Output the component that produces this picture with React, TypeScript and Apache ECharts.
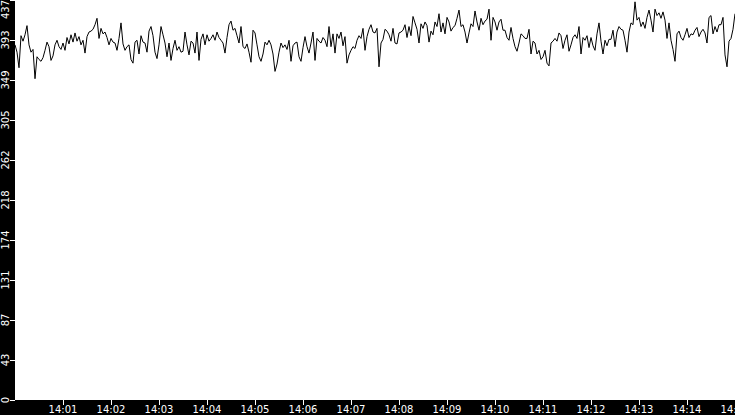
import React, { useEffect, useRef } from 'react';
import * as echarts from 'echarts';

// seconds after 14:00:00, one sample every 2.5 s
const SAMPLE_STEP = 2.5;
const START_HOUR = 14;
const MINUTE_TICKS = [1, 2, 3, 4, 5, 6, 7, 8, 9, 10, 11, 12, 13, 14, 15];
const Y_MAX = 437;
const Y_STEP = 43.7;

const seg1 = [
  388, 380, 363, 398, 392, 399, 409, 388, 380, 383, 351, 375, 372, 370, 374, 382, 391, 386, 371, 376,
  388, 393, 386, 383, 390, 382, 396, 389, 399, 391, 401, 392, 397, 388, 393, 379, 397, 402, 403, 405,
  410, 417, 395, 406, 400, 402, 396, 388, 395, 391, 390, 382, 395, 412, 389, 382, 386, 388, 372, 368,
];
const seg2 = [
  391, 393, 378, 398, 391, 390, 380, 403, 408, 398, 380, 373, 388, 408, 399, 390, 375, 390, 371, 384,
  393, 382, 386, 380, 381, 402, 388, 377, 392, 390, 379, 402, 371, 394, 400, 388, 399, 392, 395, 399,
  393, 402, 396, 393, 390, 379, 396, 410, 414, 404, 406, 398, 390, 408, 386, 384, 389, 380, 369, 404,
];
const seg3 = [
  401, 388, 375, 370, 378, 391, 388, 393, 388, 378, 359, 367, 380, 390, 385, 388, 383, 393, 370, 387,
  390, 391, 375, 370, 385, 397, 386, 379, 390, 402, 371, 395, 392, 390, 396, 393, 386, 408, 386, 400,
  379, 400, 395, 402, 387, 397, 368, 377, 382, 386, 384, 393, 398, 395, 406, 382, 397, 405, 410, 402,
];
const seg4 = [
  401, 406, 364, 390, 394, 405, 403, 399, 392, 406, 390, 389, 401, 402, 404, 410, 396, 408, 398, 419,
  412, 405, 390, 411, 406, 413, 409, 391, 403, 399, 413, 408, 422, 402, 412, 400, 418, 413, 403, 407,
  409, 417, 426, 408, 410, 402, 390, 401, 411, 408, 425, 413, 404, 417, 410, 414, 416, 427, 393, 418,
];
const seg5 = [
  413, 404, 413, 416, 404, 404, 396, 393, 407, 395, 386, 381, 390, 400, 398, 395, 395, 405, 378, 392,
  390, 378, 382, 372, 375, 382, 368, 365, 390, 392, 395, 392, 401, 398, 384, 393, 399, 381, 388, 396,
  399, 395, 408, 378, 396, 393, 398, 385, 396, 387, 382, 400, 412, 392, 378, 393, 387, 394, 394, 404,
];
const seg6 = [
  386, 402, 408, 405, 404, 393, 380, 402, 412, 410, 435, 415, 418, 408, 413, 406, 418, 426, 415, 402,
  427, 420, 423, 417, 424, 415, 395, 412, 393, 383, 370, 400, 403, 396, 393, 399, 406, 396, 400, 399,
  404, 407, 397, 402, 405, 401, 390, 418, 420, 400, 408, 402, 410, 410, 418, 377, 364, 392, 395, 405,
  422,
];

const values = [...seg1, ...seg2, ...seg3, ...seg4, ...seg5, ...seg6];

const pad = (n: number) => (n < 10 ? '0' + n : String(n));

const App = () => {
  const chartRef = useRef<HTMLDivElement>(null);

  useEffect(() => {
    if (!chartRef.current) return;

    const chart = echarts.init(chartRef.current, undefined, { renderer: 'svg' });
    const tickSeconds = MINUTE_TICKS.map((m) => m * 60);
    const font = { fontFamily: 'DejaVu Sans', fontSize: 10, color: '#fff' };

    chart.setOption({
      animation: false,
      backgroundColor: '#000',
      grid: {
        left: 15,
        right: 0,
        top: 0,
        bottom: 15,
        outerBoundsMode: 'none',
        containLabel: false,
        show: true,
        backgroundColor: '#fff',
        borderWidth: 0,
      },
      xAxis: {
        type: 'value',
        min: 0,
        max: 900,
        interval: 60,
        splitLine: { show: false },
        axisLine: { show: false },
        axisTick: {
          customValues: tickSeconds,
          length: 5,
          lineStyle: { color: '#fff' },
        },
        axisLabel: {
          ...font,
          margin: 4,
          customValues: tickSeconds,
          formatter: (v: number) => `${START_HOUR}:${pad(Math.round(v / 60))}`,
        },
      },
      yAxis: {
        type: 'value',
        min: 0,
        max: Y_MAX,
        interval: Y_STEP,
        splitLine: { show: false },
        axisLine: { show: false },
        axisTick: { show: true, length: 5, lineStyle: { color: '#fff' } },
        axisLabel: {
          ...font,
          rotate: 90,
          margin: 5,
          alignMaxLabel: 'right',
          formatter: (v: number) => String(Math.floor(v + 1e-6)),
        },
      },
      series: [
        {
          type: 'line',
          silent: true,
          showSymbol: false,
          lineStyle: { color: '#000', width: 1 },
          data: values.map((v, i) => [i * SAMPLE_STEP, v]),
        },
      ],
    });

    return () => {
      chart.dispose();
    };
  }, []);

  return (
    <div
      ref={chartRef}
      style={{ position: 'fixed', left: 0, top: 0, width: 735, height: 415 }}
    />
  );
};

export default App;
